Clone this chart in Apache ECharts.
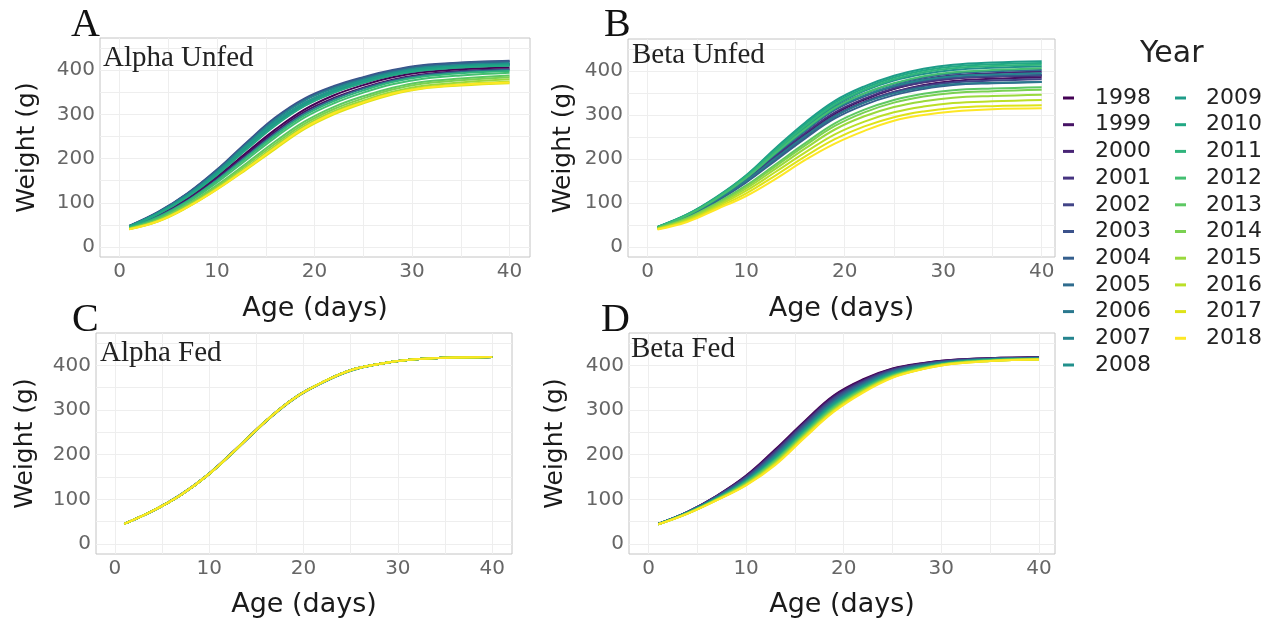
<!DOCTYPE html>
<html><head><meta charset="utf-8">
<script src="https://cdn.jsdelivr.net/npm/echarts@6/dist/echarts.min.js"></script>
<style>html,body{margin:0;padding:0;background:#fff}#c{width:1278px;height:624px}</style>
</head><body><div id="c"></div>
<script>
const years = [1998,1999,2000,2001,2002,2003,2004,2005,2006,2007,2008,2009,2010,2011,2012,2013,2014,2015,2016,2017,2018];
const ages = [1,4,7,10,13,16,19,22,25,28,31,35,40];
const xTickLabels = [0,10,20,30,40];
const yTickLabels = [0,100,200,300,400];
const xGridValues = [0,5,10,15,20,25,30,35,40];
const yGridValues = [0,50,100,150,200,250,300,350,400,450];
const yearColors = ['#440154','#471365','#482475','#463480','#414487','#3B528B','#355F8D','#2F6C8E','#2A788E','#25848E','#21908C','#1E9C89','#22A884','#2FB47C','#43BF71','#5DC863','#7AD151','#9AD93C','#BBDF27','#DEE318','#FDE725'];

// weights (g) at each age, one row per year 1998..2018
const alphaUnfed = [
 [45,72,110,159,213,266,311,343,366,384,395,402,406],
 [45,71,108,156,209,261,306,337,360,378,390,398,402],
 [47,77,117,168,227,283,326,355,376,392,403,410,414],
 [46,75,114,164,222,277,320,350,371,388,399,406,411],
 [48,79,121,174,234,291,334,362,382,398,409,415,419],
 [48,80,122,175,236,293,336,364,384,400,411,417,421],
 [47,79,121,173,233,290,333,362,382,398,409,416,420],
 [44,69,105,152,205,257,302,334,358,376,388,396,401],
 [46,76,116,166,224,280,324,353,374,391,402,409,413],
 [47,78,119,171,231,288,331,359,379,395,406,412,416],
 [46,76,115,165,223,279,323,352,373,390,401,408,412],
 [47,77,117,168,227,283,326,355,376,392,403,409,413],
 [46,75,114,163,220,275,319,349,371,388,399,406,410],
 [44,68,104,150,202,253,298,330,354,373,385,393,398],
 [43,66,101,146,197,248,293,325,349,368,380,388,394],
 [42,63,97,140,189,239,284,317,341,360,373,381,388],
 [42,62,95,137,185,234,279,312,336,356,369,377,384],
 [41,60,93,134,180,229,274,307,331,351,364,372,379],
 [41,59,91,132,178,226,271,304,328,348,360,368,374],
 [40,58,90,130,175,222,267,300,325,345,358,365,370],
 [40,59,91,131,177,225,270,303,327,347,359,367,372]
];
const betaUnfed = [
 [44,70,107,152,204,256,303,335,359,374,383,387,389],
 [44,69,105,149,200,251,297,329,352,368,377,382,385],
 [45,72,110,157,211,264,312,343,366,381,390,395,398],
 [45,71,108,154,207,259,306,337,360,374,383,388,391],
 [44,70,106,151,202,253,299,330,352,366,374,378,381],
 [45,72,111,158,212,265,312,343,364,377,385,388,390],
 [44,69,104,147,197,247,292,323,345,359,368,372,375],
 [45,73,112,160,216,270,318,349,371,385,394,399,402],
 [44,70,107,151,202,252,297,328,349,362,370,373,375],
 [45,72,110,157,212,265,313,344,366,380,388,392,395],
 [46,73,112,161,218,273,322,355,378,393,402,407,410],
 [46,74,114,163,225,283,332,365,389,405,414,419,422],
 [46,74,113,162,222,279,328,361,385,401,410,415,418],
 [45,73,112,160,219,275,324,357,381,397,406,411,414],
 [45,72,110,157,214,268,316,349,372,388,397,402,406],
 [43,66,100,140,188,236,281,312,334,348,356,360,363],
 [43,65,98,137,184,231,275,306,328,342,350,354,357],
 [42,63,95,133,178,224,267,297,318,331,339,343,346],
 [41,61,92,128,171,215,256,285,306,319,327,331,334],
 [41,59,89,122,163,206,245,274,295,308,316,320,322],
 [40,57,86,116,155,198,235,264,287,300,308,313,315]
];
const alphaFed = [
 [45,74,110,157,215,275,326,362,389,403,412,417,419],
 [45,74,110,157,215,275,326,362,389,403,412,417,419],
 [45,74,111,158,216,276,327,362,389,403,412,417,419],
 [45,74,110,157,215,275,326,362,389,403,412,417,419],
 [45,74,110,157,214,274,325,361,388,403,412,417,419],
 [45,74,110,157,215,275,326,362,389,403,412,417,419],
 [45,74,110,158,216,275,326,362,389,403,412,417,419],
 [45,74,110,157,215,275,326,362,389,403,412,417,419],
 [45,74,110,157,215,274,325,362,389,403,412,417,419],
 [45,74,110,157,215,275,326,362,389,403,412,417,419],
 [45,74,111,158,215,275,327,362,389,403,412,417,419],
 [45,74,110,157,215,275,326,362,389,403,412,417,419],
 [45,74,110,157,215,275,326,361,388,403,412,417,419],
 [45,74,110,157,215,275,326,362,389,403,412,417,419],
 [45,74,110,157,214,275,326,362,389,403,412,417,419],
 [45,74,110,157,215,275,326,362,389,403,412,417,419],
 [45,74,110,157,215,275,326,362,389,403,412,417,419],
 [45,74,110,157,215,276,326,362,389,403,412,417,419],
 [45,74,110,157,215,275,326,362,389,403,412,417,419],
 [45,74,110,157,215,275,326,362,389,403,412,417,419],
 [45,74,110,157,215,275,326,362,389,403,412,417,419]
];
const betaFed = [
 [45,72,108,153,212,275,333,369,393,405,412,416,418],
 [45,72,108,152,210,273,331,367,392,404,412,416,418],
 [45,72,107,151,208,271,329,366,391,403,411,415,418],
 [45,71,107,150,207,270,327,364,390,403,411,415,417],
 [45,71,106,149,205,268,326,363,389,402,410,415,417],
 [45,71,106,148,203,266,324,361,388,402,410,414,417],
 [45,71,105,146,201,264,322,360,387,401,409,414,416],
 [45,71,104,145,200,262,320,358,386,400,409,414,416],
 [45,70,104,144,198,260,318,357,385,399,408,414,416],
 [45,70,103,143,196,258,316,355,384,398,407,413,415],
 [45,70,103,142,195,257,315,354,383,398,407,413,415],
 [44,70,102,141,193,255,313,353,382,397,406,412,415],
 [44,70,102,140,191,253,311,351,381,396,406,412,415],
 [44,69,101,139,189,251,309,349,379,395,406,412,414],
 [44,69,101,138,188,249,307,348,378,394,405,411,414],
 [44,69,100,137,186,247,305,346,377,394,405,411,414],
 [44,69,100,135,184,245,303,345,376,393,405,411,414],
 [44,68,99,134,182,243,301,343,375,392,404,410,413],
 [44,68,99,133,180,242,299,342,374,392,404,410,413],
 [44,68,98,132,179,240,298,341,373,391,403,410,413],
 [44,68,98,131,177,238,296,339,372,391,403,410,413]
];
const panelLetters = ['A','B','C','D'];
const panelTitles = ['Alpha Unfed','Beta Unfed','Alpha Fed','Beta Fed'];

const panels = [
 {data: alphaUnfed, grid:{left:100, top:38, width:430, height:219}, xMax:42.1, yGap:60, xGap:38, letter:[71,5], sub:[103,44]},
 {data: betaUnfed, grid:{left:628, top:39, width:427, height:218}, xMax:41.35, yGap:52, xGap:38, letter:[604,5], sub:[632,41]},
 {data: alphaFed, grid:{left:96, top:333, width:416, height:221}, xMax:42.1, yGap:58, xGap:37, letter:[72,300], sub:[100,339]},
 {data: betaFed, grid:{left:629, top:333, width:426, height:221}, xMax:41.65, yGap:61, xGap:37, letter:[601,300], sub:[631,335]}
];

const sans = 'DejaVu Sans';
const serif = 'Liberation Serif';
const grids = [], xAxes = [], yAxes = [], series = [], titles = [];
panels.forEach((p, pi) => {
  grids.push(Object.assign({show:true, borderColor:'#c4c4c4', borderWidth:1, backgroundColor:'transparent', containLabel:false}, p.grid));
  xAxes.push({
    type:'value', gridIndex:pi, min:-2, max:p.xMax,
    name:'Age (days)', nameLocation:'middle', nameGap:p.xGap,
    nameTextStyle:{fontFamily:sans, fontSize:27, color:'#1a1a1a'},
    axisLine:{show:false}, axisTick:{show:false, customValues:xGridValues},
    axisLabel:{customValues:xTickLabels, fontFamily:sans, fontSize:20, color:'#666666', margin:5},
    splitLine:{show:true, lineStyle:{color:'#eeeeee', width:1}}
  });
  yAxes.push({
    type:'value', gridIndex:pi, min:-22.5, max:472.5,
    name:'Weight (g)', nameLocation:'middle', nameGap:p.yGap, nameRotate:90,
    nameTextStyle:{fontFamily:sans, fontSize:25, color:'#1a1a1a'},
    axisLine:{show:false}, axisTick:{show:false, customValues:yGridValues},
    axisLabel:{customValues:yTickLabels, fontFamily:sans, fontSize:20, color:'#666666', margin:5},
    splitLine:{show:true, lineStyle:{color:'#eeeeee', width:1}}
  });
  years.forEach((yr, yi) => {
    series.push({
      type:'line', name:String(yr), xAxisIndex:pi, yAxisIndex:pi,
      data: ages.map((a, k) => [a, p.data[yi][k]]),
      smooth:0.4, showSymbol:false, symbol:'none', silent:true,
      color:yearColors[yi], lineStyle:{width:2, color:yearColors[yi]},
      emphasis:{disabled:true}, animation:false
    });
  });
  titles.push({text:panelLetters[pi], left:p.letter[0], top:p.letter[1], padding:0,
    textStyle:{fontFamily:serif, fontSize:40, fontWeight:'normal', color:'#111'}});
  titles.push({text:panelTitles[pi], left:p.sub[0], top:p.sub[1], padding:0,
    textStyle:{fontFamily:serif, fontSize:29, fontWeight:'normal', color:'#222'}});
});
titles.push({text:'Year', left:1140, top:39, padding:0, textStyle:{fontFamily:sans, fontSize:30, fontWeight:'normal', color:'#222'}});

const legendBase = {orient:'vertical', top:87, padding:0, itemGap:4.7, itemWidth:11, itemHeight:3, icon:'rect', selectedMode:false};
const legends = [
  Object.assign({}, legendBase, {left:1063, data:years.slice(0,11).map(String),
    textStyle:{fontFamily:sans, fontSize:22, lineHeight:22, color:'#222', padding:[0,0,0,16]}}),
  Object.assign({}, legendBase, {left:1175, data:years.slice(11).map(String),
    textStyle:{fontFamily:sans, fontSize:22, lineHeight:22, color:'#222', padding:[0,0,0,15]}})
];

const chart = echarts.init(document.getElementById('c'), null, {renderer:'canvas'});
chart.setOption({
  animation:false, backgroundColor:'#ffffff',
  title:titles, legend:legends, grid:grids, xAxis:xAxes, yAxis:yAxes, series:series
});
</script></body></html>
